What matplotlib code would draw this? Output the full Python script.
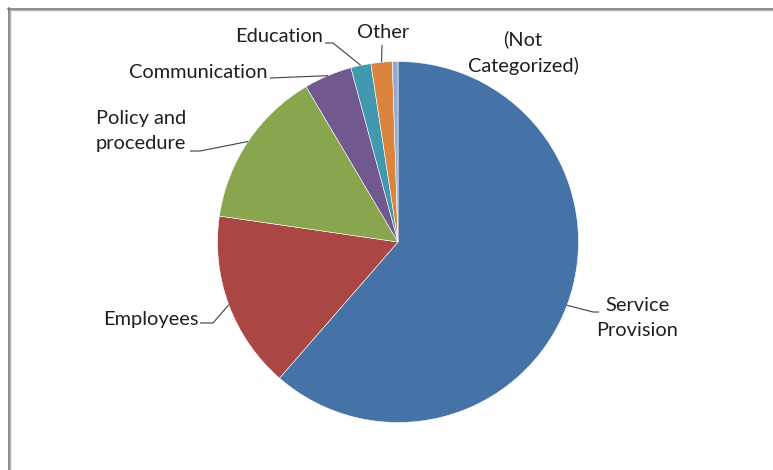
import matplotlib
matplotlib.use("Agg")
import matplotlib.pyplot as plt
from matplotlib.lines import Line2D
import numpy as np

# ---- data ----
categories = ["Service\nProvision", "Employees", "Policy and\nprocedure", "Communication",
              "Education", "Other", "(Not\nCategorized)"]
values = [61.4, 15.9, 14.2, 4.3, 1.8, 1.9, 0.5]
colors = ["#4572A7", "#AA4643", "#89A54E", "#71588F", "#4198AF", "#DB843D", "#93A9CF"]

W, H = 773, 470
fig = plt.figure(figsize=(W / 100, H / 100), dpi=100)
ax = fig.add_axes([0, 0, 1, 1])

def Y(py):
    return H - py

cx, cy, R = 398, Y(242), 180.5
wedges, _ = ax.pie(values, colors=colors, startangle=90, counterclock=False,
                   center=(cx, cy), radius=R, frame=True,
                   wedgeprops=dict(edgecolor="white", linewidth=0.4))
ax.set_xlim(0, W)
ax.set_ylim(0, H)
ax.set_aspect("auto")
ax.axis("off")

# label layout (pixel coords from top-left): text centre, leader bend points
layout = [
    dict(text=(637, 318), path=[(593, 312), (599, 312)]),
    dict(text=(150.5, 319), path=[(213, 323), (200, 323)]),
    dict(text=(141, 131), path=[(200, 151), (190, 151)]),
    dict(text=(198.5, 72), path=[(270, 78)]),
    dict(text=(279, 37), path=[(333, 43), (325, 43)]),
    dict(text=(383, 32), path=[(382, 45)]),
    dict(text=(523, 53), path=[]),
]

font = "Lato"
for w, lab, lay in zip(wedges, categories, layout):
    mid = np.deg2rad((w.theta1 + w.theta2) / 2)
    ax0 = cx + R * np.cos(mid)
    ay0 = cy + R * np.sin(mid)
    if lay["path"]:
        xs = [ax0] + [p[0] for p in lay["path"]]
        ys = [ay0] + [Y(p[1]) for p in lay["path"]]
        ax.plot(xs, ys, color="#404040", lw=0.8, solid_capstyle="butt")
    tx, ty = lay["text"]
    ax.text(tx, Y(ty), lab, ha="center", va="center", multialignment="center",
            fontsize=14.4, family=font, color="#1f1f1f", linespacing=1.58)

# chart-area frame (partially visible)
fig.add_artist(Line2D([8 / W, 1], [1 - 8.7 / H, 1 - 8.7 / H], transform=fig.transFigure,
                      color="#6e6e6e", lw=1.1))
fig.add_artist(Line2D([9.5 / W, 1], [1 - 10.0 / H, 1 - 10.0 / H], transform=fig.transFigure,
                      color="#b0b0b0", lw=1.0))
fig.add_artist(Line2D([8.7 / W, 8.7 / W], [0, 1 - 8 / H], transform=fig.transFigure,
                      color="#6e6e6e", lw=1.1))
fig.add_artist(Line2D([10.0 / W, 10.0 / W], [0, 1 - 9.5 / H], transform=fig.transFigure,
                      color="#b0b0b0", lw=1.0))

fig.savefig("out.png", dpi=100, facecolor="white")
